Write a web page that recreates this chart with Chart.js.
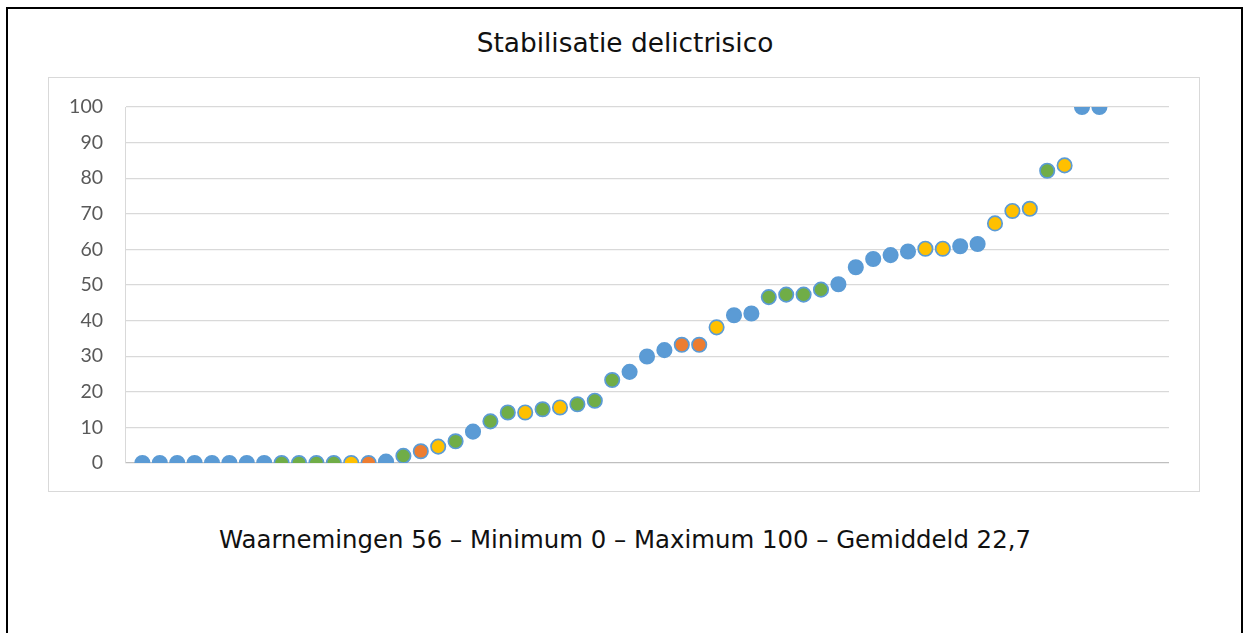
<!DOCTYPE html>
<html>
<head>
<meta charset="utf-8">
<script src="https://cdn.jsdelivr.net/npm/chart.js@4"></script>
<style>
  body { margin: 0; background: #fff; width: 1244px; height: 633px; overflow: hidden; position: relative; }
  #frame { position: absolute; left: 6px; top: 7px; width: 1233px; height: 700px; border: 2px solid #000; }
  #title { position: absolute; left: 0; width: 1250px; top: 27px; text-align: center; line-height: 32px;
           font-family: "DejaVu Sans", Verdana, sans-serif; font-size: 26.4px; color: #111; }
  #box { position: absolute; left: 48px; top: 77px; width: 1150px; height: 413px; border: 1px solid #d9d9d9; }
  #wrap { position: absolute; left: 49px; top: 78px; width: 1150px; height: 413px; }
  #caption { position: absolute; left: 0; width: 1250px; top: 525px; text-align: center; line-height: 30px;
             font-family: "DejaVu Sans", Verdana, sans-serif; font-size: 24.4px; color: #111; }
</style>
</head>
<body>
<div id="frame"></div>
<div id="title">Stabilisatie delictrisico</div>
<div id="box"></div>
<div id="wrap"><canvas id="chart" width="1150" height="413"></canvas></div>
<div id="caption">Waarnemingen 56 – Minimum 0 – Maximum 100 – Gemiddeld 22,7</div>
<script>
// waarnemingen, gesorteerd op delictrisico
const values = [
    0, 0, 0, 0, 0, 0, 0, 0, 0, 0, 0, 0, 0, 0,
    0.4, 2.0, 3.3, 4.6, 6.1, 8.8,
    11.7, 14.2, 14.2, 15.1, 15.6, 16.5, 17.5,
    23.3, 25.6, 29.9, 31.7, 33.2, 33.2, 38.1,
    41.5, 42.0, 46.6, 47.3, 47.3, 48.7, 50.2,
    55.0, 57.3, 58.4, 59.4, 60.2, 60.2, 60.9, 61.5,
    67.3, 70.8, 71.4, 82.1, 83.6, 100, 100
];
// groep per waarneming (bepaalt de vulkleur)
const groups = [
    "a", "a", "a", "a", "a", "a", "a", "a", "g", "g", "g", "g", "y", "o",
    "a", "g", "o", "y", "g", "a",
    "g", "g", "y", "g", "y", "g", "g",
    "g", "a", "a", "a", "o", "o", "y",
    "a", "a", "g", "g", "g", "g", "a",
    "a", "a", "a", "a", "y", "y", "a", "a",
    "y", "y", "y", "g", "y", "a", "a"
];
const yTicks = [0, 10, 20, 30, 40, 50, 60, 70, 80, 90, 100];

const palette = { a: "#5b9bd5", g: "#70ad47", y: "#ffc000", o: "#ed7d31" };

const points = [];
for (let i = 0; i < values.length; i++) {
    points.push({ x: i + 1, y: values[i] });
}

new Chart(document.getElementById("chart"), {
    type: "scatter",
    data: {
        datasets: [{
            data: points,
            pointRadius: 7.2,
            pointHoverRadius: 7.2,
            pointBorderWidth: 1.7,
            pointBorderColor: "#5b9bd5",
            pointBackgroundColor: groups.map(g => palette[g])
        }]
    },
    options: {
        responsive: false,
        animation: false,
        devicePixelRatio: 1,
        layout: { padding: { left: 0, right: 30, top: 29, bottom: 28 } },
        plugins: { legend: { display: false }, tooltip: { enabled: false } },
        scales: {
            x: { type: "linear", min: 0, max: 60, display: false },
            y: {
                min: 0, max: 100,
                afterBuildTicks: s => { s.ticks = yTicks.map(v => ({ value: v })); },
                afterFit: s => { s.width = 76; s.paddingTop = 0; s.paddingBottom = 0; },
                border: { display: true, color: "#d9d9d9", width: 1 },
                grid: {
                    drawTicks: false,
                    color: c => c.tick && c.tick.value === 0 ? "#bfbfbf" : "#d9d9d9",
                    lineWidth: 1.3
                },
                ticks: {
                    padding: 22,
                    color: "#595959",
                    font: { family: "Lato, 'Liberation Sans', sans-serif", size: 19.5 }
                }
            }
        }
    }
});
</script>
</body>
</html>
